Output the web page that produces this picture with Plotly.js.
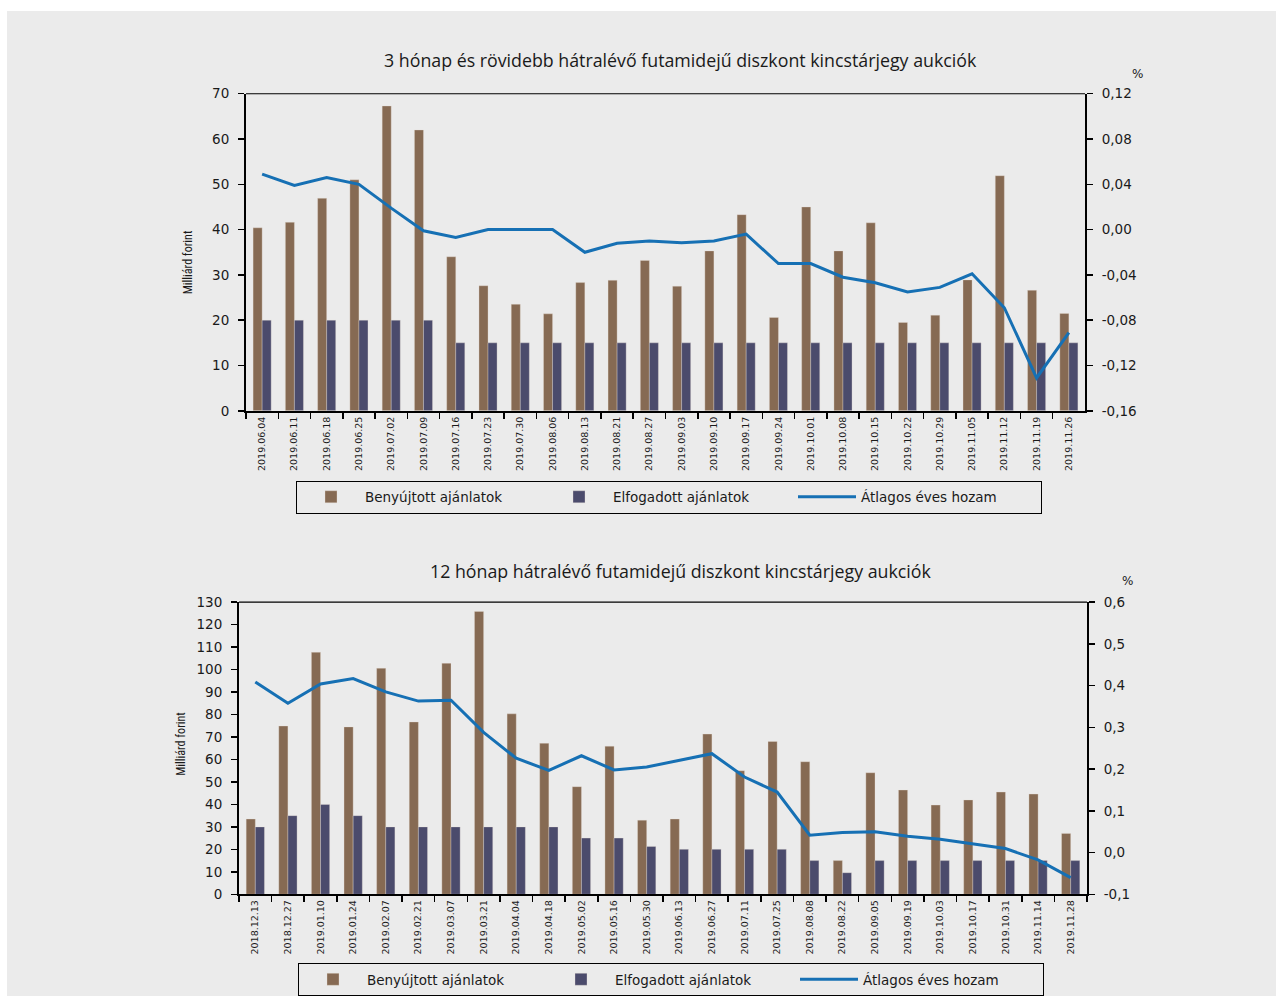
<!DOCTYPE html>
<html>
<head>
<meta charset="utf-8">
<script src="https://cdn.plot.ly/plotly-3.0.1.min.js"></script>
<style>
  html, body { margin: 0; padding: 0; background: #ffffff; }
  #chart { position: absolute; left: 7px; top: 11px; width: 1269px; height: 985px; }
</style>
</head>
<body>
<div id="chart"></div>
<script>
// ---------------- DATA ----------------
const topTitle = '3 hónap és rövidebb hátralévő futamidejű diszkont kincstárjegy aukciók';
const bottomTitle = '12 hónap hátralévő futamidejű diszkont kincstárjegy aukciók';
const seriesNames = ['Benyújtott ajánlatok', 'Elfogadott ajánlatok', 'Átlagos éves hozam'];
const leftAxisTitle = 'Milliárd forint';
const rightAxisUnit = '%';

const topDates = ['2019.06.04','2019.06.11','2019.06.18','2019.06.25','2019.07.02','2019.07.09',
  '2019.07.16','2019.07.23','2019.07.30','2019.08.06','2019.08.13','2019.08.21','2019.08.27',
  '2019.09.03','2019.09.10','2019.09.17','2019.09.24','2019.10.01','2019.10.08','2019.10.15',
  '2019.10.22','2019.10.29','2019.11.05','2019.11.12','2019.11.19','2019.11.26'];
const topSubmitted = [40.4, 41.6, 46.9, 51.0, 67.3, 62.0, 34.0, 27.6, 23.5, 21.4, 28.3, 28.8, 33.2,
  27.5, 35.3, 43.3, 20.6, 45.0, 35.3, 41.5, 19.5, 21.1, 28.9, 51.9, 26.6, 21.5];
const topAccepted = [20, 20, 20, 20, 20, 20, 15, 15, 15, 15, 15, 15, 15,
  15, 15, 15, 15, 15, 15, 15, 15, 15, 15, 15, 15, 15];
const topYield = [0.049, 0.039, 0.046, 0.040, 0.019, -0.001, -0.007, 0.000, 0.000, 0.000, -0.020, -0.012, -0.010,
  -0.0115, -0.010, -0.004, -0.030, -0.030, -0.042, -0.047, -0.055, -0.051, -0.039, -0.069, -0.131, -0.091];

const botDates = ['2018.12.13','2018.12.27','2019.01.10','2019.01.24','2019.02.07','2019.02.21',
  '2019.03.07','2019.03.21','2019.04.04','2019.04.18','2019.05.02','2019.05.16','2019.05.30',
  '2019.06.13','2019.06.27','2019.07.11','2019.07.25','2019.08.08','2019.08.22','2019.09.05',
  '2019.09.19','2019.10.03','2019.10.17','2019.10.31','2019.11.14','2019.11.28'];
const botSubmitted = [33.5, 74.9, 107.7, 74.5, 100.6, 76.7, 102.8, 125.9, 80.3, 67.2, 47.9, 65.9, 33.0,
  33.5, 71.3, 55.0, 68.0, 59.0, 15.0, 54.1, 46.4, 39.7, 42.0, 45.5, 44.6, 27.1];
const botAccepted = [30, 35, 40, 35, 30, 30, 30, 30, 30, 30, 25, 25, 21.3,
  20, 20, 20, 20, 15, 9.6, 15, 15, 15, 15, 15, 15, 15];
const botYield = [0.409, 0.358, 0.404, 0.417, 0.385, 0.363, 0.365, 0.288, 0.226, 0.197, 0.232, 0.198, 0.205,
  0.221, 0.237, 0.181, 0.145, 0.0415, 0.048, 0.050, 0.039, 0.032, 0.0215, 0.0096, -0.0176, -0.060];

const topLeftTicks = [0, 10, 20, 30, 40, 50, 60, 70];
const topRightTickVals = [-0.16, -0.12, -0.08, -0.04, 0.00, 0.04, 0.08, 0.12];
const topRightTickText = ['-0,16', '-0,12', '-0,08', '-0,04', '0,00', '0,04', '0,08', '0,12'];
const botLeftTicks = [0, 10, 20, 30, 40, 50, 60, 70, 80, 90, 100, 110, 120, 130];
const botRightTickVals = [-0.1, 0.0, 0.1, 0.2, 0.3, 0.4, 0.5, 0.6];
const botRightTickText = ['-0,1', '0,0', '0,1', '0,2', '0,3', '0,4', '0,5', '0,6'];

// ---------------- STYLE ----------------
const BROWN = '#866a53';
const NAVY = '#4b4b6c';
const LINE = '#1670b4';
const BG = '#ebebeb';
const W = 1269, H = 985, OX = 7, OY = 11;
const px = x => (x - OX) / W;
const py = y => 1 - (y - OY) / H;

const tickFont = { family: '"DejaVu Sans", Verdana, sans-serif', size: 13.5, color: '#1a1a1a' };
const dateFont = { family: '"DejaVu Sans", Verdana, sans-serif', size: 9.5, color: '#1a1a1a' };
const titleFont = { family: '"Open Sans", "Noto Sans", sans-serif', size: 17.8, color: '#1a1a1a' };
const axTitleFont = { family: '"Liberation Sans Narrow", "Roboto Condensed", "Liberation Sans", sans-serif', size: 12, color: '#1a1a1a' };
const legendFont = { family: '"DejaVu Sans", Verdana, sans-serif', size: 13.5, color: '#1a1a1a' };

const barLine = { color: 'rgba(235,225,215,0.55)', width: 0.6 };

const traces = [
  { type: 'bar', x: topDates, y: topSubmitted, name: seriesNames[0], marker: { color: BROWN, line: barLine },
    xaxis: 'x', yaxis: 'y', legend: 'legend' },
  { type: 'bar', x: topDates, y: topAccepted, name: seriesNames[1], marker: { color: NAVY, line: barLine },
    xaxis: 'x', yaxis: 'y', legend: 'legend' },
  { type: 'scatter', mode: 'lines', x: topDates, y: topYield, name: seriesNames[2],
    line: { color: LINE, width: 3 }, xaxis: 'x', yaxis: 'y2', legend: 'legend' },
  { type: 'bar', x: botDates, y: botSubmitted, name: seriesNames[0], marker: { color: BROWN, line: barLine },
    xaxis: 'x2', yaxis: 'y3', legend: 'legend2' },
  { type: 'bar', x: botDates, y: botAccepted, name: seriesNames[1], marker: { color: NAVY, line: barLine },
    xaxis: 'x2', yaxis: 'y3', legend: 'legend2' },
  { type: 'scatter', mode: 'lines', x: botDates, y: botYield, name: seriesNames[2],
    line: { color: LINE, width: 3 }, xaxis: 'x2', yaxis: 'y4', legend: 'legend2' }
];

const xBase = {
  type: 'category', showgrid: false, zeroline: false, showline: true, linecolor: '#000', linewidth: 2,
  ticks: 'outside', tickson: 'boundaries', ticklen: 6, tickwidth: 1.5, tickcolor: '#000',
  tickangle: -90, tickfont: dateFont, fixedrange: true
};
const yBase = {
  showgrid: false, zeroline: false, showline: true, linecolor: '#000', linewidth: 2,
  ticks: 'outside', ticklen: 6, tickwidth: 1.5, tickcolor: '#000', tickfont: tickFont,
  ticklabelstandoff: 6, fixedrange: true
};

const topX = [px(246), px(1085)];
const topY = [py(412), py(94)];
const botX = [px(239), px(1087)];
const botY = [py(897), py(604)];

const legendBase = {
  orientation: 'h', xanchor: 'center', yanchor: 'middle',
  bgcolor: BG, bordercolor: '#000', borderwidth: 1, font: legendFont,
  entrywidth: 175, entrywidthmode: 'pixels', itemwidth: 58, itemclick: false, itemdoubleclick: false
};

const layout = {
  width: W, height: H,
  margin: { l: 0, r: 0, t: 0, b: 0 },
  paper_bgcolor: BG, plot_bgcolor: BG,
  barmode: 'group', bargap: 0.44, bargroupgap: 0,
  showlegend: true,
  xaxis: Object.assign({}, xBase, { domain: topX, anchor: 'y' }),
  yaxis: Object.assign({}, yBase, { domain: topY, anchor: 'x', range: [0, 70], tickvals: topLeftTicks }),
  yaxis2: Object.assign({}, yBase, { overlaying: 'y', side: 'right', anchor: 'x', range: [-0.16, 0.12],
    tickvals: topRightTickVals, ticktext: topRightTickText }),
  xaxis2: Object.assign({}, xBase, { domain: botX, anchor: 'y3' }),
  yaxis3: Object.assign({}, yBase, { domain: botY, anchor: 'x2', range: [0, 130], tickvals: botLeftTicks }),
  yaxis4: Object.assign({}, yBase, { overlaying: 'y3', side: 'right', anchor: 'x2', range: [-0.1, 0.6],
    tickvals: botRightTickVals, ticktext: botRightTickText }),
  legend: Object.assign({}, legendBase, { x: px(669), y: py(498.5) }),
  legend2: Object.assign({}, legendBase, { x: px(671), y: py(982.5) }),
  shapes: [
    { type: 'line', xref: 'x domain', yref: 'y domain', x0: 0, x1: 1, y0: 1, y1: 1, line: { color: '#000', width: 1.2 } },
    { type: 'line', xref: 'x2 domain', yref: 'y3 domain', x0: 0, x1: 1, y0: 1, y1: 1, line: { color: '#000', width: 1.2 } }
  ],
  annotations: [
    { text: topTitle, xref: 'paper', yref: 'paper', x: px(680), y: py(60), xanchor: 'center', yanchor: 'middle',
      showarrow: false, font: titleFont },
    { text: bottomTitle, xref: 'paper', yref: 'paper', x: px(680), y: py(573), xanchor: 'center', yanchor: 'middle',
      showarrow: false, font: titleFont },
    { text: leftAxisTitle, xref: 'paper', yref: 'paper', x: px(188), y: py(263), xanchor: 'center', yanchor: 'middle',
      textangle: -90, showarrow: false, font: axTitleFont },
    { text: leftAxisTitle, xref: 'paper', yref: 'paper', x: px(181), y: py(746), xanchor: 'center', yanchor: 'middle',
      textangle: -90, showarrow: false, font: axTitleFont },
    { text: rightAxisUnit, xref: 'paper', yref: 'paper', x: px(1137), y: py(74), xanchor: 'center', yanchor: 'middle',
      showarrow: false, font: { family: '"DejaVu Sans", sans-serif', size: 12, color: '#1a1a1a' } },
    { text: rightAxisUnit, xref: 'paper', yref: 'paper', x: px(1127), y: py(583), xanchor: 'center', yanchor: 'middle',
      showarrow: false, font: { family: '"DejaVu Sans", sans-serif', size: 12, color: '#1a1a1a' } }
  ]
};

Plotly.newPlot('chart', traces, layout, { displayModeBar: false, staticPlot: true });
</script>
</body>
</html>
